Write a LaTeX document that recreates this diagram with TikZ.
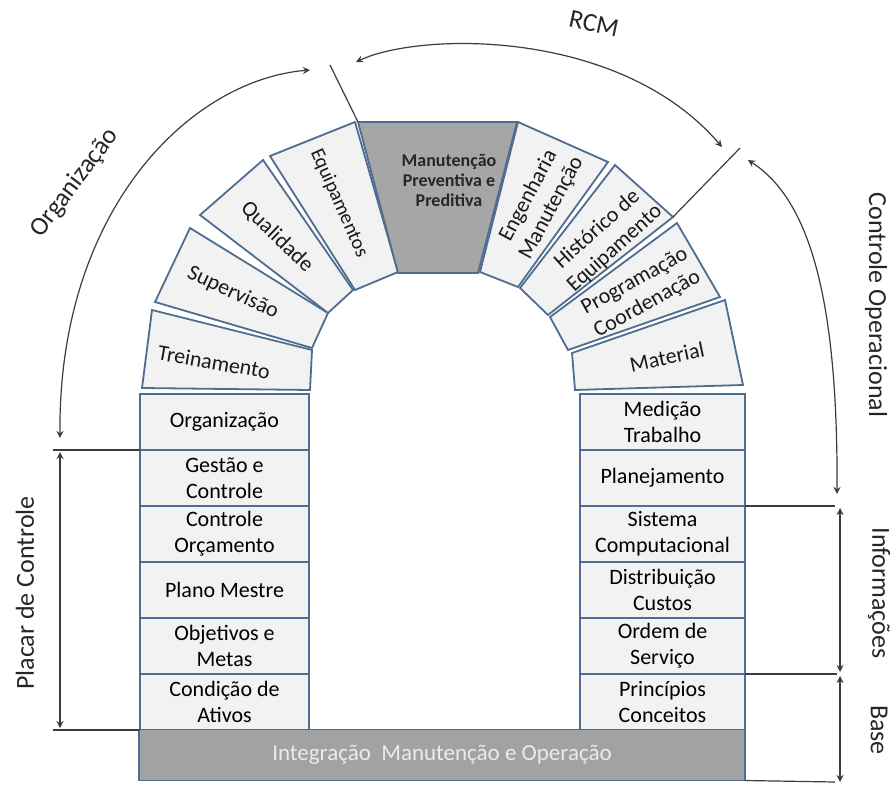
\documentclass[tikz,border=0pt]{standalone}
\usepackage{fontspec}
\setmainfont{Carlito}
\usetikzlibrary{arrows,positioning}
\definecolor{stonefill}{RGB}{242,242,242}
\definecolor{stoneedge}{RGB}{79,108,145}
\definecolor{keygray}{RGB}{166,166,166}
\definecolor{basegray}{RGB}{162,162,162}
\definecolor{linegray}{RGB}{60,60,60}

\begin{document}
\begin{tikzpicture}[x=0.5pt, y=-0.5pt,
        stone/.style={draw=stoneedge, line width=0.9pt, fill=stonefill},
        keystone/.style={draw=stoneedge, line width=0.9pt, fill=keygray},
        lcell/.style={rectangle, draw=stoneedge, line width=0.9pt, fill=stonefill, minimum width=84.5pt, minimum height=28pt, inner sep=0pt, outer sep=0pt, align=center, font=\fontsize{11}{13}\selectfont},
        rcell/.style={lcell, minimum width=82.5pt},
        vtext/.style={align=center, inner sep=0pt, font=\fontsize{11}{13}\selectfont, text=black!90},
        side/.style={inner sep=0pt, font=\fontsize{13}{15}\selectfont, text=black!85},
        arrow/.style={<->, >=stealth, line width=0.6pt, draw=linegray},
        tick/.style={line width=0.6pt, draw=linegray}
    ]
        \useasboundingbox (0,0) rectangle (892,785);
        % columns
        \node[lcell] (l1) at (224.5,422) {Organização};
        \node[lcell, below=0pt of l1] (l2) {Gestão e\\Controle};
        \node[lcell, below=0pt of l2] (l3) {Controle\\Orçamento};
        \node[lcell, below=0pt of l3] (l4) {Plano Mestre};
        \node[lcell, below=0pt of l4] (l5) {Objetivos e\\Metas};
        \node[lcell, below=0pt of l5] (l6) {Condição de\\Ativos};
        \node[rcell] (r1) at (662.5,422) {Medição\\Trabalho};
        \node[rcell, below=0pt of r1] (r2) {Planejamento};
        \node[rcell, below=0pt of r2] (r3) {Sistema\\Computacional};
        \node[rcell, below=0pt of r3] (r4) {Distribuição\\Custos};
        \node[rcell, below=0pt of r4] (r5) {Ordem de\\Serviço};
        \node[rcell, below=0pt of r5] (r6) {Princípios\\Conceitos};
        \node[rectangle, draw=stoneedge, line width=0.9pt, fill=basegray, minimum width=303pt, minimum height=25.5pt, inner sep=0pt, outer sep=0pt, text=black!8, font=\fontsize{11.5}{13}\selectfont] (base) at (442,755) {Integração\ \ Manutenção e Operação};
        % arch
        \draw[stone] (152,310) -- (312,350) -- (310,390) -- (142,388) -- cycle;
        \draw[stone] (190,228) -- (328,313) -- (312,348) -- (155,302) -- cycle;
        \draw[stone] (263,160) -- (353,290) -- (328,313) -- (200,215) -- cycle;
        \draw[stone] (270,156) -- (355,122) -- (398,272) -- (355,290) -- cycle;
        \draw[keystone] (358,122) -- (517,122) -- (478,273) -- (398,273) -- cycle;
        \draw[stone] (518,122) -- (608,162) -- (518,287) -- (480,272) -- cycle;
        \draw[stone] (615,165) -- (673,217) -- (548,315) -- (520,288) -- cycle;
        \draw[stone] (677,223) -- (720,297) -- (568,350) -- (550,317) -- cycle;
        \draw[stone] (725,300) -- (743,385) -- (575,390) -- (572,353) -- cycle;
        \node[vtext, rotate=-10] (treino) at (214,362) {Treinamento};
        \node[vtext, rotate=-25] (superv) at (233,293) {Supervisão};
        \node[vtext, rotate=-44] (qualid) at (277,237) {Qualidade};
        \node[vtext, rotate=-66, font=\fontsize{10}{12}\selectfont] (equip) at (339,203) {Equipamentos};
        \node[vtext, font=\bfseries\fontsize{9}{10}\selectfont, text=black!85] (mpp) at (449,180) {Manutenção\\Preventiva e\\Preditiva};
        \node[vtext, rotate=62] (engman) at (540,202) {Engenharia\\Manutenção};
        \node[vtext, rotate=42] (histeq) at (606,239) {Histórico de\\Equipamento};
        \node[vtext, rotate=29] (progcoord) at (641,293) {Programação\\Coordenação};
        \node[vtext, rotate=12] (mater) at (667,357) {Material};
        % outer labels
        \coordinate (slashA) at (330,65);
        \coordinate (slashB) at (358,122);
        \coordinate (slashC) at (740,148);
        \coordinate (slashD) at (673,217);
        \draw[tick] (slashA) -- (slashB);
        \draw[tick] (slashC) -- (slashD);
        \coordinate (orgA) at (310,70);
        \coordinate (orgB) at (60,438);
        \draw[arrow] (orgB) .. controls (58,210) and (190,80) .. (orgA);
        \node[side, rotate=53] (orglbl) at (75,183) {Organização};
        \coordinate (rcmA) at (356,62);
        \coordinate (rcmB) at (722,147);
        \draw[arrow] (rcmA) .. controls (420,32) and (620,28) .. (rcmB);
        \node[side, rotate=-12] (rcmlbl) at (594,24) {RCM};
        \coordinate (copA) at (748,160);
        \coordinate (copB) at (837,494);
        \draw[arrow] (copA) .. controls (810,200) and (838,300) .. (copB);
        \node[side, rotate=-90] (coplbl) at (876,305) {Controle Operacional};
        \coordinate (plA) at (53,450);
        \coordinate (plB) at (53,730);
        \coordinate (plC) at (60,452);
        \coordinate (plD) at (60,728);
        \draw[tick] (plA) -- (l2.north west);
        \draw[tick] (plB) -- (l6.south west);
        \draw[arrow] (plC) -- (plD);
        \node[side, rotate=90] (placar) at (25,593) {Placar de Controle};
        \coordinate (infA) at (835,506);
        \coordinate (infB) at (837,674);
        \coordinate (infC) at (840,508);
        \coordinate (infD) at (840,672);
        \draw[tick] (r3.north east) -- (infA);
        \draw[tick] (r6.north east) -- (infB);
        \draw[arrow] (infC) -- (infD);
        \node[side, rotate=-90] (infolbl) at (879,593) {Informações};
        \coordinate (baseA) at (840,676);
        \coordinate (baseB) at (840,782);
        \coordinate (baseC) at (835,782);
        \draw[arrow] (baseA) -- (baseB);
        \draw[tick] (base.south east) -- (baseC);
        \node[side, rotate=-90] (baselbl) at (879,730) {Base};
    \end{tikzpicture}
\end{document}
